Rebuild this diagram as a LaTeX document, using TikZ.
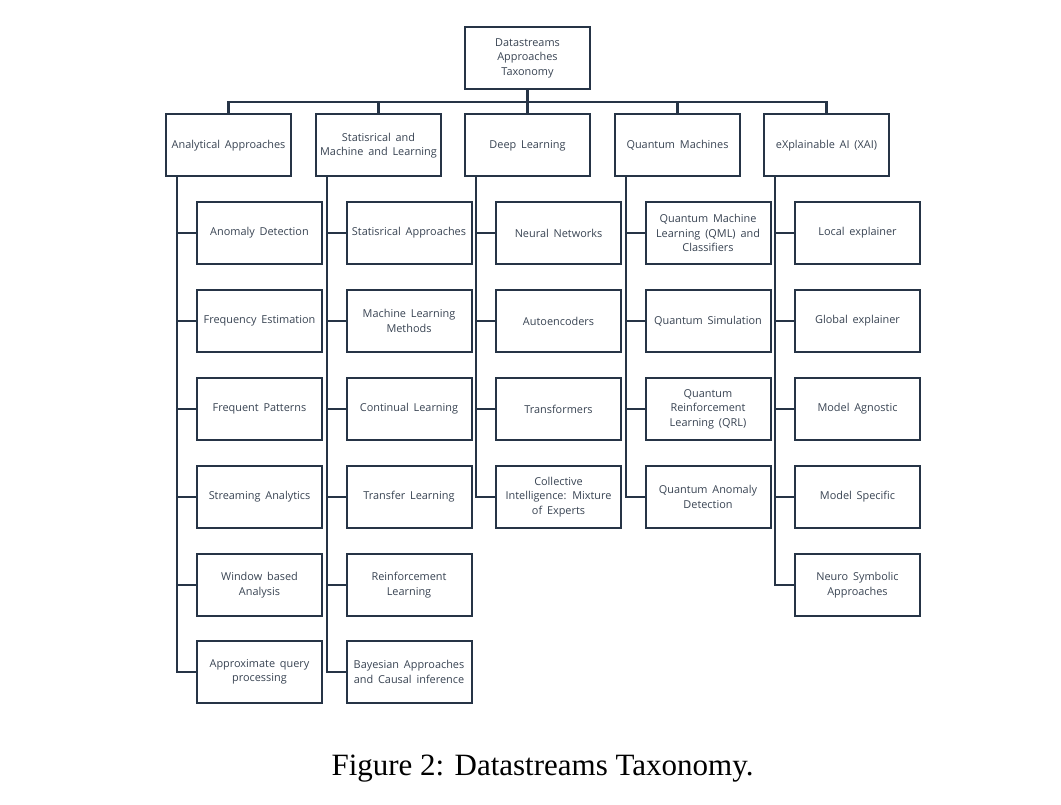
\documentclass[tikz,border=0pt]{standalone}
\usepackage{fontspec}
\setmainfont{Liberation Serif}
\newfontfamily\boxfont[WordSpace=1.7]{Open Sans}
\usetikzlibrary{calc}
\definecolor{navy}{RGB}{38,52,70}
\tikzset{
  bx/.style={draw=navy, line width=2pt, minimum width=125pt, minimum height=62pt,
    inner sep=1pt, align=center, text=navy!80!gray, font=\boxfont\fontsize{10.9}{14.5}\selectfont},
  conn/.style={draw=navy, line width=2.8pt},
}
\begin{document}
\begin{tikzpicture}[x=1pt,y=-1pt]
\useasboundingbox (0,0) rectangle (1061,805);
\node[bx] (top) at (527.5,58) {Datastreams\\Approaches\\Taxonomy};
% level 1
\node[bx] (A) at (228.5,145.5) {Analytical Approaches};
\node[bx] (S) at (378.5,145.5) {Statisrical and\\Machine and Learning};
\node[bx] (D) at (527.5,145.5) {Deep Learning};
\node[bx] (Q) at (677.5,145.5) {Quantum Machines};
\node[bx] (X) at (826.5,145.5) {eXplainable AI (XAI)};
% bus
\coordinate (bus) at (527.5,102);
\draw[conn, line width=3.4pt] (top.south) -- (D.north);
\draw[conn] (A.north) -- (A.north |- bus) -- (X.north |- bus) -- (X.north);
\draw[conn] (S.north) -- (S.north |- bus);
\draw[conn] (Q.north) -- (Q.north |- bus);
% column A
\node[bx] (A1) at (259.5,233) {Anomaly Detection};
\node[bx] (A2) at (259.5,321) {Frequency Estimation};
\node[bx] (A3) at (259.5,409) {Frequent Patterns};
\node[bx] (A4) at (259.5,497) {Streaming Analytics};
\node[bx] (A5) at (259.5,585) {Window based\\Analysis};
\node[bx] (A6) at (259.5,672) {Approximate query\\processing};
% column S
\node[bx] (S1) at (409,233) {Statisrical Approaches};
\node[bx] (S2) at (409,321) {Machine Learning\\Methods};
\node[bx] (S3) at (409,409) {Continual Learning};
\node[bx] (S4) at (409,497) {Transfer Learning};
\node[bx] (S5) at (409,585) {Reinforcement\\Learning};
\node[bx] (S6) at (409,672) {Bayesian Approaches\\and Causal inference};
% column D
\node[bx] (D1) at (558.5,233) {Neural Networks};
\node[bx] (D2) at (558.5,321) {Autoencoders};
\node[bx] (D3) at (558.5,409) {Transformers};
\node[bx] (D4) at (558.5,497) {Collective\\Intelligence: Mixture\\of Experts};
% column Q
\node[bx] (Q1) at (708,233) {Quantum Machine\\Learning (QML) and\\Classifiers};
\node[bx] (Q2) at (708,321) {Quantum Simulation};
\node[bx] (Q3) at (708,409) {Quantum\\Reinforcement\\Learning (QRL)};
\node[bx] (Q4) at (708,497) {Quantum Anomaly\\Detection};
% column X
\node[bx] (X1) at (857.5,233) {Local explainer};
\node[bx] (X2) at (857.5,321) {Global explainer};
\node[bx] (X3) at (857.5,409) {Model Agnostic};
\node[bx] (X4) at (857.5,497) {Model Specific};
\node[bx] (X5) at (857.5,585) {Neuro Symbolic\\Approaches};
% trunks
\foreach \p/\last/\kids in {A/A6/{A1,A2,A3,A4,A5}, S/S6/{S1,S2,S3,S4,S5}, D/D4/{D1,D2,D3}, Q/Q4/{Q1,Q2,Q3}, X/X5/{X1,X2,X3,X4}}{
  \coordinate (\p-t) at ($(\p.south west)+(12,0)$);
  \draw[conn, line join=miter] (\p-t) |- (\last.west);
  \foreach \k in \kids { \draw[conn] (\k.west) -- (\k.west -| \p-t); }
}
% caption
\node[font=\fontsize{31}{36}\selectfont, text=black] (cap) at (542.5,769) {Figure 2: Datastreams Taxonomy.};
\end{tikzpicture}
\end{document}
